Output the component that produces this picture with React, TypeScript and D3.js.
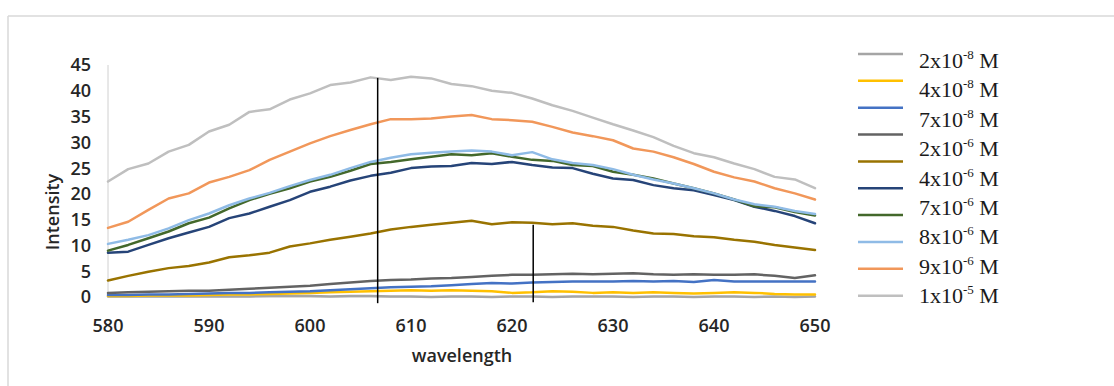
import React from "react";
import * as d3 from "d3";

const wavelengths = [580,582,584,586,588,590,592,594,596,598,600,602,604,606,608,610,612,614,616,618,620,622,624,626,628,630,632,634,636,638,640,642,644,646,648,650];

const s2e8 = [0.1,0.1,0.1,0.1,0.1,0.1,0.1,0.1,0.2,0.2,0.2,0.1,0.2,0.2,0.1,0.1,0.0,0.1,0.1,0.0,0.1,0.1,0.0,0.1,0.1,0.1,0.0,0.1,0.1,0.0,0.1,0.1,0.0,0.1,0.0,0.1];
const s4e8 = [0.2,0.2,0.3,0.3,0.3,0.4,0.5,0.5,0.6,0.7,0.8,0.9,1.0,1.1,1.2,1.3,1.2,1.3,1.2,1.1,0.8,0.9,1.1,1.0,0.8,0.9,0.8,0.9,0.8,0.7,0.8,0.9,0.8,0.6,0.5,0.5];
const s7e8 = [0.4,0.4,0.5,0.5,0.6,0.7,0.8,0.8,0.9,1.0,1.1,1.3,1.5,1.7,1.9,2.0,2.1,2.3,2.5,2.7,2.6,2.8,2.9,3.0,3.0,3.0,3.1,3.0,3.1,2.9,3.3,3.0,3.0,3.0,3.0,3.0];
const s2e6 = [0.8,0.9,1.0,1.1,1.2,1.2,1.4,1.6,1.8,2.0,2.2,2.5,2.8,3.1,3.3,3.4,3.6,3.7,3.9,4.1,4.3,4.3,4.4,4.5,4.4,4.5,4.6,4.4,4.3,4.4,4.3,4.3,4.4,4.1,3.7,4.2];
const sOlive = [3.2,4.1,4.9,5.6,6.0,6.7,7.7,8.1,8.6,9.8,10.4,11.1,11.7,12.3,13.1,13.6,14.0,14.4,14.8,14.1,14.5,14.4,14.1,14.3,13.8,13.6,12.9,12.3,12.2,11.8,11.6,11.1,10.7,10.1,9.6,9.1];
const sNavy = [8.6,8.8,10.1,11.4,12.5,13.6,15.3,16.2,17.5,18.8,20.4,21.4,22.6,23.5,24.1,25.0,25.3,25.4,26.0,25.8,26.2,25.6,25.1,25.0,23.9,23.0,22.7,21.7,21.1,20.7,19.8,18.8,17.5,16.7,15.7,14.3];
const sGreen = [9.0,10.1,11.4,12.7,14.3,15.4,17.2,18.8,20.0,21.1,22.4,23.3,24.5,25.8,26.2,26.7,27.2,27.7,27.5,27.9,27.2,26.6,26.4,25.6,25.4,24.3,23.7,23.0,22.0,21.1,20.1,18.9,17.6,17.4,16.5,15.8];
const sLightBlue = [10.3,11.1,12.0,13.3,14.9,16.2,17.8,19.1,20.2,21.5,22.7,23.7,25.0,26.2,27.0,27.7,28.0,28.2,28.4,28.2,27.5,28.1,26.7,26.0,25.6,24.8,23.7,22.8,22.0,21.1,20.1,18.9,18.0,17.5,16.7,16.1];
const sOrange = [13.4,14.6,16.9,19.1,20.1,22.2,23.3,24.6,26.6,28.2,29.8,31.2,32.4,33.5,34.5,34.5,34.6,35.0,35.3,34.5,34.3,34.0,33.0,31.9,31.2,30.4,28.8,28.2,27.1,25.8,24.3,23.2,22.4,21.1,20.1,18.9];
const s1e5 = [22.4,24.8,25.9,28.2,29.5,32.1,33.4,35.9,36.4,38.3,39.5,41.1,41.6,42.6,42.1,42.7,42.4,41.3,40.9,40.0,39.6,38.5,37.2,36.1,34.8,33.5,32.3,31.0,29.3,27.9,27.1,25.9,24.8,23.3,22.8,21.1];

const seriesList = [s2e8, s4e8, s7e8, s2e6, sOlive, sNavy, sGreen, sLightBlue, sOrange, s1e5];
const seriesColors = ["#a5a5a5", "#ffc000", "#4472c4", "#636363", "#997300", "#264478", "#43682b", "#8fbbe6", "#f1975a", "#bfbfbf"];

const legendCoef = ["2", "4", "7", "2", "4", "7", "8", "9", "1"];
const legendExp = ["8", "8", "8", "6", "6", "6", "6", "6", "5"];

const yTicks = [0, 5, 10, 15, 20, 25, 30, 35, 40, 45];
const xTicks = [580, 590, 600, 610, 620, 630, 640, 650];

// reference markers: [wavelength, from, to]
const markerLines = [
  [606.7, -1.2, 42.5],
  [622.1, -1.0, 14.0],
];

export default function App() {
  const x = d3.scaleLinear().domain([580, 650]).range([108, 815]);
  const y = d3.scaleLinear().domain([0, 45]).range([297, 65]);
  const line = d3
    .line<number>()
    .x((_, i) => x(wavelengths[i]))
    .y((d) => y(d));

  const axisFont = "'Open Sans', sans-serif";
  const legendY0 = 54;
  const legendStep = 26.85;
  const textY0 = 68;
  const textStep = 29.4;

  return (
    <svg
      width={1114}
      height={386}
      style={{ position: "absolute", left: 0, top: 0, background: "#fff" }}
    >
      <rect x={0} y={0} width={1114} height={386} fill="#fff" />
      {/* frame */}
      <line x1={8} y1={16} x2={1114} y2={16} stroke="#d9d9d9" strokeWidth={1.5} />
      <line x1={8} y1={16} x2={8} y2={386} stroke="#d9d9d9" strokeWidth={1.5} />

      {/* axes */}
      <line x1={x(580)} y1={y(45)} x2={x(580)} y2={y(0)} stroke="#d0d0d0" strokeWidth={1} />
      <line x1={x(580)} y1={y(0)} x2={x(650)} y2={y(0)} stroke="#d9d9d9" strokeWidth={1} />

      {yTicks.map((t) => (
        <text
          key={"y" + t}
          x={91}
          y={y(t)}
          dy="0.36em"
          textAnchor="end"
          fontFamily={axisFont}
          fontWeight={600}
          fontSize={18}
          fill="#262626"
        >
          {t}
        </text>
      ))}
      {xTicks.map((t) => (
        <text
          key={"x" + t}
          x={x(t)}
          y={332}
          textAnchor="middle"
          fontFamily={axisFont}
          fontWeight={600}
          fontSize={18}
          fill="#262626"
        >
          {t}
        </text>
      ))}
      <text
        x={462}
        y={362}
        textAnchor="middle"
        fontFamily={axisFont}
        fontWeight={600}
        fontSize={18}
        fill="#262626"
      >
        wavelength
      </text>
      <text
        transform="translate(59,212) rotate(-90)"
        textAnchor="middle"
        fontFamily={axisFont}
        fontWeight={600}
        fontSize={18}
        fill="#262626"
      >
        Intensity
      </text>

      {/* series */}
      {seriesList.map((s, i) => (
        <path
          key={"s" + i}
          d={line(s) || ""}
          fill="none"
          stroke={seriesColors[i]}
          strokeWidth={2.5}
          strokeLinejoin="round"
          strokeLinecap="round"
        />
      ))}

      {/* marker lines */}
      {markerLines.map((m, i) => (
        <line
          key={"m" + i}
          x1={x(m[0])}
          x2={x(m[0])}
          y1={y(m[2])}
          y2={y(m[1])}
          stroke="#000"
          strokeWidth={1.5}
        />
      ))}

      {/* legend lines */}
      {seriesColors.map((c, i) => (
        <line
          key={"l" + i}
          x1={858}
          x2={903}
          y1={legendY0 + i * legendStep}
          y2={legendY0 + i * legendStep}
          stroke={c}
          strokeWidth={2.5}
        />
      ))}
      {legendCoef.map((c, i) => (
        <text
          key={"t" + i}
          x={919}
          y={textY0 + i * textStep}
          fontFamily="'Liberation Serif', 'Times New Roman', serif"
          fontSize={22}
          fill="#1a1a1a"
        >
          {c}x10
          <tspan fontSize={13} dy={-9}>
            -{legendExp[i]}
          </tspan>
          <tspan dy={9}> M</tspan>
        </text>
      ))}
    </svg>
  );
}
